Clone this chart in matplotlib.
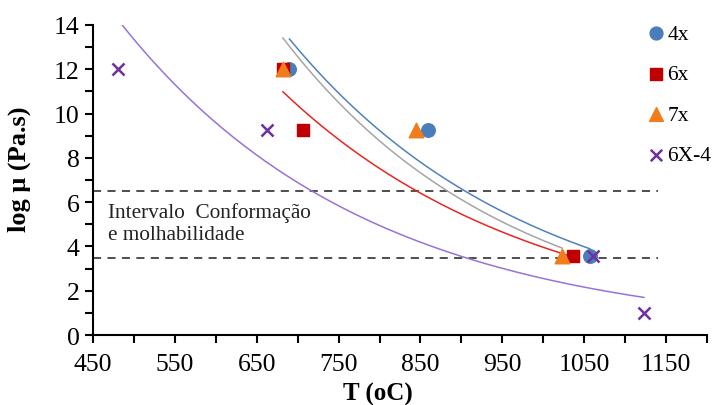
import numpy as np
import matplotlib
matplotlib.use("Agg")
from matplotlib import pyplot as plt
from matplotlib.ticker import MultipleLocator, FixedLocator

plt.rcParams['font.family'] = ['Liberation Serif', 'DejaVu Serif']

# data (T in oC, log viscosity)
t_4x = [690, 859, 1057]
v_4x = [12.0, 9.25, 3.55]
t_6x = [682, 706, 1036]
v_6x = [12.0, 9.25, 3.55]
t_7x = [682, 844, 1023]
v_7x = [12.0, 9.25, 3.55]
t_6x4 = [480, 662, 1061, 1123]
v_6x4 = [12.0, 9.25, 3.55, 1.0]

series_names = ['4x', '6x', '7x', '6X-4']
limits = [6.5, 3.5]


def exp_trend(t, v):
    # exponential trendline, like the spreadsheet one
    b, a = np.polyfit(t, np.log(v), 1)
    tt = np.linspace(min(t), max(t), 200)
    return tt, np.exp(a + b * tt)


fig = plt.figure(figsize=(7.12, 4.06), dpi=100)
ax = fig.add_axes([0.1306, 0.1724, 0.8624, 0.7636])

line_cols = ['#4f81bd', '#e8261f', '#a5a5a5', '#9873d6']
for (t, v), c in zip([(t_4x, v_4x), (t_6x, v_6x), (t_7x, v_7x), (t_6x4, v_6x4)], line_cols):
    tt, vv = exp_trend(t, v)
    ax.plot(tt, vv, color=c, lw=1.1, zorder=2)

for y in limits:
    ax.plot([450, 1140], [y, y], color='#404040', lw=1.3, ls=(0, (4.5, 3.5)), zorder=1)

ax.scatter(t_4x, v_4x, marker='o', s=95, color='#4a7ebb', label=series_names[0], zorder=3)
ax.scatter(t_6x, v_6x, marker='s', s=85, color='#c00000', label=series_names[1], zorder=3)
ax.scatter(t_7x, v_7x, marker='^', s=110, color='#f07c1a', label=series_names[2], zorder=4)
ax.scatter(t_6x4, v_6x4, marker='x', s=75, color='#7030a0', linewidths=1.8, label=series_names[3], zorder=5)

ax.text(468, 4.35, 'Intervalo  Conformação\ne molhabilidade', fontsize=15.3, color='#222222',
        linespacing=1.2)

ax.set_xlim(450, 1200)
ax.set_ylim(0, 14)
ax.xaxis.set_major_locator(FixedLocator(np.arange(450, 1200, 100)))
ax.xaxis.set_minor_locator(FixedLocator(np.arange(500, 1201, 100)))
ax.yaxis.set_major_locator(MultipleLocator(2))
ax.yaxis.set_minor_locator(MultipleLocator(1))
ax.tick_params(which='both', direction='out', length=6, width=1.5, labelsize=18.5)
ax.tick_params(axis='x', pad=7)
for s in ['top', 'right']:
    ax.spines[s].set_visible(False)
for s in ['left', 'bottom']:
    ax.spines[s].set_linewidth(1.5)

ax.set_xlabel('T (oC)', fontsize=18, fontweight='bold')
ax.xaxis.set_label_coords((378 - 93) / 614, -(383 - 336) / 310)
ax.set_ylabel('log μ (Pa.s)', fontsize=19, fontweight='bold')
ax.yaxis.set_label_coords(-(93 - 31) / 614, (336 - 169) / 310)

fig.legend(loc='upper left', bbox_to_anchor=(0.889, 0.96), frameon=False, fontsize=15.5,
           handletextpad=-0.1, labelspacing=0.95, handlelength=1.3, borderaxespad=0,
           markerscale=0.95)

fig.savefig('out.png', dpi=100)
